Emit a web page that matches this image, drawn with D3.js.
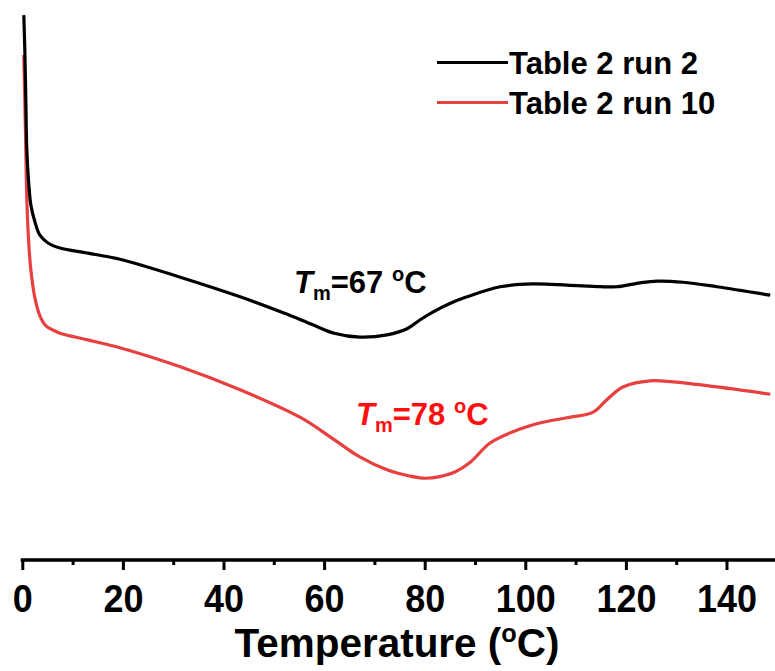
<!DOCTYPE html>
<html lang="en">
<head>
<meta charset="UTF-8">
<title>DSC curves</title>
<script src="https://cdn.jsdelivr.net/npm/d3@7/dist/d3.min.js"></script>
<style>
  body { margin: 0; background: #fff; }
  svg text { font-family: "Liberation Sans", Arial, sans-serif; font-weight: bold; }
</style>
</head>
<body>
<svg id="chart" width="775" height="671"></svg>
<script>
// values (heat flow in arbitrary units)
let tempRun2 = [0.3, 0.5, 0.7, 0.9, 1.3, 1.7, 2.5, 3.5, 5.1, 7.5, 13.0, 19.4, 31.4, 43.3, 52.0, 57.5, 62.0, 67.1, 72.5, 76.5, 79.1, 81.7, 85.0, 88.4, 95.0, 101.5, 108.3, 114.9, 118.2, 122.8, 126.2, 131.4, 138.1, 148.7];
let heatRun2 = [97.3, 91.1, 82.1, 73.2, 67.0, 63.4, 60.4, 58.0, 56.6, 55.7, 54.8, 53.7, 50.5, 47.0, 44.1, 42.1, 40.5, 39.8, 40.2, 41.3, 42.9, 44.3, 45.8, 47.0, 48.8, 49.3, 49.1, 48.8, 48.8, 49.5, 49.8, 49.6, 48.8, 47.3];

let tempRun10 = [0.3, 0.5, 0.7, 0.9, 1.3, 1.7, 2.5, 3.5, 4.7, 6.5, 7.5, 13.0, 19.4, 31.4, 43.3, 55.2, 61.2, 67.1, 72.5, 77.0, 80.0, 83.0, 86.0, 89.0, 93.0, 98.4, 103.5, 108.3, 113.5, 116.2, 119.4, 124.8, 129.4, 138.1, 148.7];
let heatRun10 = [90.2, 82.1, 73.2, 64.3, 56.3, 51.8, 46.8, 43.6, 41.8, 40.9, 40.5, 39.3, 37.9, 34.5, 30.4, 25.5, 22.0, 18.4, 16.1, 15.0, 14.6, 14.9, 15.7, 17.4, 20.9, 23.2, 24.6, 25.4, 26.4, 28.6, 30.9, 32.0, 31.8, 30.9, 29.6];

let majorTicks = [0, 20, 40, 60, 80, 100, 120, 140];
let minorTicks = [10, 30, 50, 70, 90, 110, 130];
let seriesNames = ["Table 2 run 2", "Table 2 run 10"];
let seriesColors = ["#000000", "#e8403f"];

let svg = d3.select("#chart");

let x = d3.scaleLinear().domain([0, 150]).range([22.3, 776.8]);
let y = d3.scaleLinear().domain([0, 100]).range([560, 0]);

let line = d3.line()
    .x(function(d){ return x(d[0]); })
    .y(function(d){ return y(d[1]); })
    .curve(d3.curveCatmullRom.alpha(0.5));

let series = [
    d3.zip(tempRun2, heatRun2),
    d3.zip(tempRun10, heatRun10)
];

// draw red first so black sits on top at the left edge
svg.selectAll("path.curve")
   .data([1, 0])
   .enter()
   .append("path")
   .attr("class", "curve")
   .attr("d", function(i){ return line(series[i]); })
   .attr("fill", "none")
   .attr("stroke", function(i){ return seriesColors[i]; })
   .attr("stroke-width", 3.2)
   .attr("stroke-linejoin", "round");

// x axis
let axisG = svg.append("g").attr("transform", "translate(0,560)");

axisG.append("g")
   .call(d3.axisBottom(x).tickValues(minorTicks).tickSize(5).tickFormat("").tickSizeOuter(0));

axisG.append("g")
   .call(d3.axisBottom(x).tickValues(majorTicks).tickSize(10).tickPadding(14).tickSizeOuter(0));

axisG.selectAll("path.domain")
   .attr("stroke-width", 3)
   .attr("d", "M" + (x(0) - 1.5) + ",0H" + x(150));
axisG.selectAll(".tick line").attr("stroke-width", 3);
axisG.selectAll(".tick text")
   .attr("font-size", 39)
   .attr("fill", "#000")
   .attr("textLength", function(d){ return String(d).length * 20; })
   .attr("lengthAdjust", "spacingAndGlyphs");
axisG.attr("font-family", null);

// axis title
let title = svg.append("text")
   .attr("x", 397)
   .attr("y", 657)
   .attr("text-anchor", "middle")
   .attr("font-size", 40)
   .attr("textLength", 325)
   .attr("lengthAdjust", "spacingAndGlyphs");
title.append("tspan").text("Temperature (");
title.append("tspan").attr("font-size", 25).attr("dy", -15).text("o");
title.append("tspan").attr("dy", 15).text("C)");

// legend
let legend = svg.selectAll("g.legend")
   .data(seriesNames)
   .enter()
   .append("g")
   .attr("class", "legend")
   .attr("transform", function(d, i){ return "translate(0," + (i * 40) + ")"; });

legend.append("line")
   .attr("x1", 437).attr("x2", 508)
   .attr("y1", 62.5).attr("y2", 62.5)
   .attr("stroke", function(d, i){ return seriesColors[i]; })
   .attr("stroke-width", 3.2);

legend.append("text")
   .attr("x", 509)
   .attr("y", 74)
   .attr("font-size", 31)
   .attr("fill", "#000")
   .text(function(d){ return d; });

// melting point labels
function tmLabel(px, py, value, color){
    let t = svg.append("text")
       .attr("x", px).attr("y", py)
       .attr("font-size", 31)
       .attr("fill", color);
    t.append("tspan").attr("font-style", "italic").text("T");
    t.append("tspan").attr("font-size", 20).attr("dy", 7).text("m");
    t.append("tspan").attr("dy", -7).text("=" + value + " ");
    t.append("tspan").attr("font-size", 20).attr("dy", -12).text("o");
    t.append("tspan").attr("dy", 12).text("C");
}

tmLabel(294, 293, 67, "#000000");
tmLabel(356, 425, 78, "#ff1010");
</script>
</body>
</html>
